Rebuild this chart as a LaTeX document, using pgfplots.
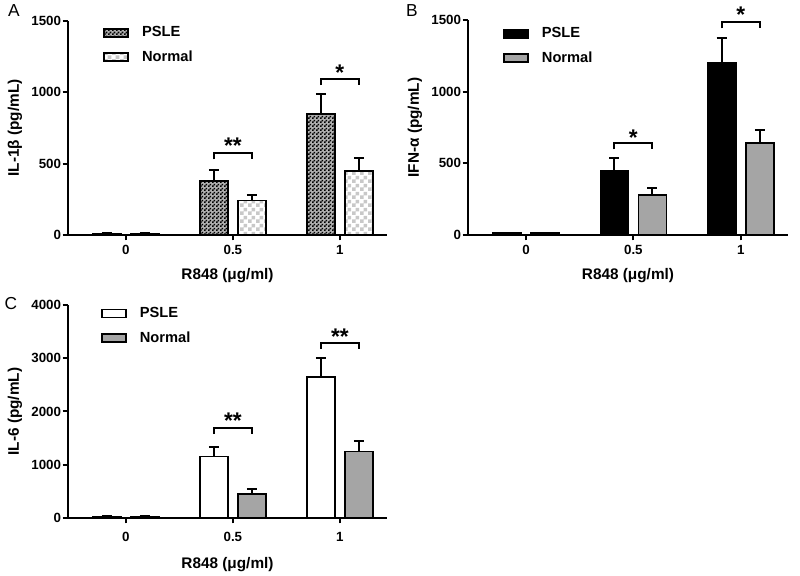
\documentclass[border=0pt]{standalone}
\usepackage{fontspec}
\setmainfont{Liberation Sans}
\usepackage{pgfplots}
\pgfplotsset{compat=1.18}
\usetikzlibrary{patterns}

\definecolor{mygray}{RGB}{165,165,165}
\definecolor{lightchk}{RGB}{200,200,200}
\definecolor{bgchk}{RGB}{175,175,175}

\pgfdeclarepatternformonly{finecheck}{\pgfpointorigin}{\pgfqpoint{3pt}{3pt}}{\pgfqpoint{3pt}{3pt}}{%
  \pgfpathrectangle{\pgfpointorigin}{\pgfqpoint{1.5pt}{1.5pt}}%
  \pgfpathrectangle{\pgfqpoint{1.5pt}{1.5pt}}{\pgfqpoint{1.5pt}{1.5pt}}%
  \pgfusepath{fill}}
\pgfdeclarepatternformonly{coarsecheck}{\pgfpointorigin}{\pgfqpoint{6pt}{6pt}}{\pgfqpoint{6pt}{6pt}}{%
  \pgfpathrectangle{\pgfpointorigin}{\pgfqpoint{3pt}{3pt}}%
  \pgfpathrectangle{\pgfqpoint{3pt}{3pt}}{\pgfqpoint{3pt}{3pt}}%
  \pgfusepath{fill}}

\tikzset{
  bracket/.style={line width=1.5pt, black},
  star/.style={font=\bfseries\fontsize{17}{20}\selectfont, anchor=base, yshift=-10pt},
}

\pgfplotsset{
  panel/.style={
    scale only axis, width=239.25pt, height=160.5pt,
    axis x line*=bottom, axis y line*=left,
    axis line style={line width=1.5pt, black},
    xmin=-0.54, xmax=2.44, ymin=0,
    xtick={0,1,2}, xticklabels={0,0.5,1},
    tick style={line width=1.5pt, black},
    tick align=outside, major tick length=4pt,
    tick label style={font=\bfseries\fontsize{10}{12}\selectfont},
    yticklabel style={inner sep=1pt},
    /pgf/number format/assume math mode=true,
    /pgf/number format/1000 sep={},
    scaled y ticks=false,
    label style={font=\bfseries\fontsize{11.5}{13}\selectfont},
    xlabel={R848 (μg/ml)},
    xlabel style={at={(axis description cs:0.5,-0.19)}, anchor=center},
    ylabel style={at={(axis description cs:-0.166,0.5)}, anchor=center},
    clip=false,
    legend cell align=left,
    legend style={draw=none, fill=none, font=\bfseries\fontsize{11}{13}\selectfont,
      anchor=north west, row sep=5pt},
    error bars/y dir=plus, error bars/y explicit,
    error bars/error mark=-,
    error bars/error bar style={line width=1.5pt, black, solid},
    error bars/error mark options={rotate=90, line width=1.5pt, mark size=3.75pt, black},
  },
  legbox/.style={legend image code/.code={\draw[##1,line width=1.2pt] (0pt,-3pt) rectangle (18pt,3pt); \path (26pt,0pt);}},
  mybar/.style={ybar, bar width=21pt, bar shift=0pt, draw=black, line width=1.2pt},
}

\begin{document}
\begin{tikzpicture}
\path[use as bounding box] (0,0) rectangle (600pt,431.25pt);

% Panel A
\begin{axis}[panel, at={(51pt,255pt)}, anchor=south west,
  ymax=1500, ytick={0,500,1000,1500},
  ylabel={IL-1β (pg/mL)},
  legend style={at={(axis description cs:0.097,1.0)}}]
\addplot[mybar, fill=bgchk, postaction={pattern=finecheck, pattern color=black}, legbox]
  coordinates {(-0.1775,10) +- (0,4) (0.8225,378) +- (0,77) (1.8225,849) +- (0,138)};
\addlegendentry{PSLE}
\addplot[mybar, fill=white, postaction={pattern=coarsecheck, pattern color=lightchk}, legbox]
  coordinates {(0.1775,10) +- (0,4) (1.1775,243) +- (0,37) (2.1775,448) +- (0,89)};
\addlegendentry{Normal}
\draw[bracket] (axis cs:0.8225,530) -- (axis cs:0.8225,572) -- (axis cs:1.1775,572) -- (axis cs:1.1775,530);
\node[star] at (axis cs:1,665) {**};
\draw[bracket] (axis cs:1.8225,1050) -- (axis cs:1.8225,1092) -- (axis cs:2.1775,1092) -- (axis cs:2.1775,1050);
\node[star] at (axis cs:2,1178) {*};
\end{axis}

% Panel B
\begin{axis}[panel, at={(351pt,255pt)}, anchor=south west, width=240pt, height=161.25pt,
  ymax=1500, ytick={0,500,1000,1500},
  ylabel={IFN-α (pg/mL)},
  legend style={at={(axis description cs:0.096,0.99)}}]
\addplot[mybar, fill=black, legbox]
  coordinates {(-0.1775,12) +- (0,5) (0.8225,449) +- (0,85) (1.8225,1202) +- (0,175)};
\addlegendentry{PSLE}
\addplot[mybar, fill=mygray, legbox]
  coordinates {(0.1775,12) +- (0,5) (1.1775,279) +- (0,47) (2.1775,640) +- (0,93)};
\addlegendentry{Normal}
\draw[bracket] (axis cs:0.8225,598) -- (axis cs:0.8225,640) -- (axis cs:1.1775,640) -- (axis cs:1.1775,598);
\node[star] at (axis cs:1,720) {*};
\draw[bracket] (axis cs:1.8225,1442) -- (axis cs:1.8225,1488) -- (axis cs:2.1775,1488) -- (axis cs:2.1775,1442);
\node[star] at (axis cs:2,1574) {*};
\end{axis}

% Panel C
\begin{axis}[panel, at={(51pt,42.75pt)}, anchor=south west, height=159.75pt,
  ymax=4000, ytick={0,1000,2000,3000,4000},
  ylabel={IL-6 (pg/mL)},
  xlabel style={at={(axis description cs:0.5,-0.22)}},
  xticklabel style={yshift=-3pt},
  legend style={at={(axis description cs:0.09,1.015)}}]
\addplot[mybar, fill=white, legbox]
  coordinates {(-0.1775,25) +- (0,10) (0.8225,1156) +- (0,175) (1.8225,2644) +- (0,368)};
\addlegendentry{PSLE}
\addplot[mybar, fill=mygray, legbox]
  coordinates {(0.1775,30) +- (0,10) (1.1775,456) +- (0,88) (2.1775,1250) +- (0,187)};
\addlegendentry{Normal}
\draw[bracket] (axis cs:0.8225,1575) -- (axis cs:0.8225,1687) -- (axis cs:1.1775,1687) -- (axis cs:1.1775,1575);
\node[star] at (axis cs:1,1937) {**};
\draw[bracket] (axis cs:1.8225,3175) -- (axis cs:1.8225,3294) -- (axis cs:2.1775,3294) -- (axis cs:2.1775,3175);
\node[star] at (axis cs:2,3500) {**};
\end{axis}

\node[font=\fontsize{13}{15}\selectfont] at (10.5pt,423pt) {A};
\node[font=\fontsize{13}{15}\selectfont] at (309pt,423pt) {B};
\node[font=\fontsize{13}{15}\selectfont] at (8.25pt,203.25pt) {C};
\end{tikzpicture}
\end{document}
